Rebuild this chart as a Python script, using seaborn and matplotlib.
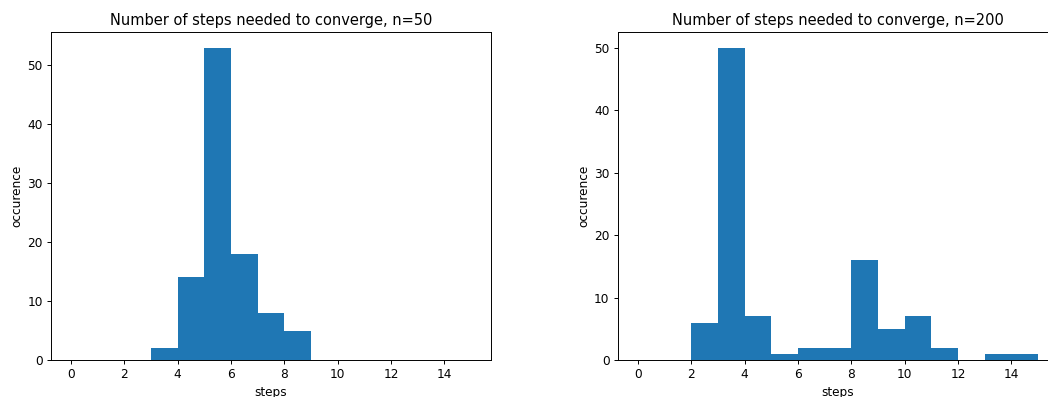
import numpy as np
import pandas as pd
import matplotlib
matplotlib.use("Agg")
import matplotlib.pyplot as plt
import seaborn as sns

steps = np.arange(15)
counts_n50 = [0, 0, 0, 2, 14, 53, 18, 8, 5, 0, 0, 0, 0, 0, 0]
counts_n200 = [0, 0, 6, 50, 7, 1, 2, 2, 16, 5, 7, 2, 0, 1, 1]
titles = ["Number of steps needed to converge, n=50",
          "Number of steps needed to converge, n=200"]

sns.set_style("ticks")
plt.rcParams['font.family'] = ['DejaVu Sans']
plt.rcParams['text.color'] = 'black'
plt.rcParams['axes.labelcolor'] = 'black'
plt.rcParams['xtick.color'] = 'black'
plt.rcParams['ytick.color'] = 'black'

fig = plt.figure(figsize=(10.48, 3.97), dpi=100)
ax1 = fig.add_axes([0.0487, 0.0932, 0.4198, 0.8262])
ax2 = fig.add_axes([0.5897, 0.0932, 0.4198, 0.8262])

for ax, counts, title in zip([ax1, ax2], [counts_n50, counts_n200], titles):
    df = pd.DataFrame({"steps": steps, "count": np.asarray(counts, dtype=float)})
    sns.histplot(data=df, x="steps", weights="count", binwidth=1,
                 binrange=(0, 15), ax=ax,
                 color="#1f77b4", alpha=1, linewidth=0, edgecolor="#1f77b4")
    ax.set_title(title, fontsize=10.5, color="black", pad=5)
    ax.set_xlabel("steps", fontsize=8.75, labelpad=3)
    ax.set_ylabel("occurence", fontsize=8.75, labelpad=3)
    ax.set_xticks(np.arange(0, 16, 2))
    ax.tick_params(labelsize=8.75, length=3.1, width=0.7, pad=3)
    for s in ax.spines.values():
        s.set_visible(True)
        s.set_linewidth(0.7)
        s.set_color("black")
    ax.set_xlim(-0.75, 15.75)
    ax.set_ylim(0, max(counts) * 1.05)

fig.savefig("out.png", dpi=100)
